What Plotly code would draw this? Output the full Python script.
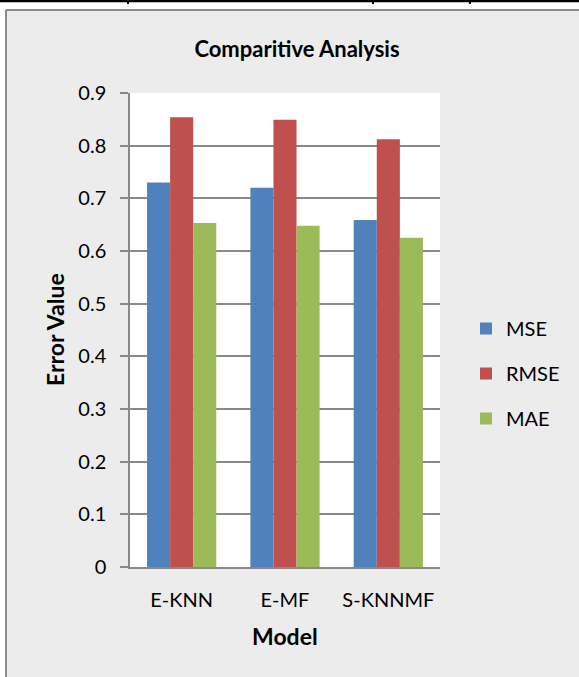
import plotly.graph_objects as go

# Error metrics per recommender model
models = ["E-KNN", "E-MF", "S-KNNMF"]
mse = [0.730, 0.720, 0.659]
rmse = [0.854, 0.849, 0.812]
mae = [0.653, 0.648, 0.625]

series_names = ["MSE", "RMSE", "MAE"]
series_colors = ["#4F81BD", "#C0504D", "#9BBB59"]
y_ticks = [0, 0.1, 0.2, 0.3, 0.4, 0.5, 0.6, 0.7, 0.8, 0.9]

W, H = 579, 677
L, R, T, B = 130, 139, 93, 110
PW, PH = W - L - R, H - T - B

def fx(px):
    return (px - L) / PW

def fy(py):
    return (H - B - py) / PH

FONT = "Lato, 'Open Sans', sans-serif"
GRID = "#898989"

fig = go.Figure()
for name, vals, col in zip(series_names, [mse, rmse, mae], series_colors):
    fig.add_trace(go.Bar(
        name=name, x=models, y=vals,
        marker=dict(color=col, line=dict(width=0)),
        legendgroup=name,
    ))

shapes = [
    # page margin around the chart frame
    dict(type="rect", xref="paper", yref="paper", x0=fx(-5), x1=fx(W + 10),
         y0=fy(9), y1=fy(-5), fillcolor="white", line=dict(width=0)),
    dict(type="rect", xref="paper", yref="paper", x0=fx(-5), x1=fx(5),
         y0=fy(H + 10), y1=fy(-5), fillcolor="white", line=dict(width=0)),
    # chart frame border
    dict(type="line", xref="paper", yref="paper", x0=fx(6), x1=fx(6),
         y0=fy(10), y1=fy(H + 10), line=dict(color="#8a8a8a", width=2)),
    dict(type="line", xref="paper", yref="paper", x0=fx(6), x1=fx(W + 10),
         y0=fy(10), y1=fy(10), line=dict(color="#8a8a8a", width=2)),
    # table rule above
    dict(type="line", xref="paper", yref="paper", x0=fx(-5), x1=fx(W + 10),
         y0=fy(1), y1=fy(1), line=dict(color="black", width=2.5)),
]
for vx in [128, 373, 470]:
    shapes.append(dict(type="line", xref="paper", yref="paper", x0=fx(vx), x1=fx(vx),
                       y0=fy(-2), y1=fy(4), line=dict(color="black", width=2)))

annotations = [
    dict(text="<b>Error Value</b>", xref="paper", yref="paper", x=fx(55), y=fy(330),
         showarrow=False, textangle=-90, font=dict(family=FONT, size=23, color="black"),
         xanchor="center", yanchor="middle"),
    dict(text="<b>Model</b>", xref="paper", yref="paper", x=fx(285), y=fy(636),
         showarrow=False, font=dict(family=FONT, size=23, color="black"),
         xanchor="center", yanchor="middle"),
]

fig.update_layout(
    width=W, height=H,
    margin=dict(l=L, r=R, t=T, b=B, pad=0),
    paper_bgcolor="#ececec",
    plot_bgcolor="white",
    barmode="group",
    bargap=0.33,
    bargroupgap=0,
    font=dict(family=FONT, size=20, color="black"),
    title=dict(text="<b>Comparitive Analysis</b>", x=fx(297), xref="paper",
               y=1 - 49 / H, yref="container", xanchor="center", yanchor="middle",
               font=dict(family=FONT, size=22, color="black")),
    legend=dict(x=fx(466), y=fy(309), xanchor="left", yanchor="top",
                bgcolor="rgba(0,0,0,0)", traceorder="grouped", tracegroupgap=16,
                font=dict(family=FONT, size=20, color="black")),
    shapes=shapes,
    annotations=annotations,
    xaxis=dict(showline=True, linecolor=GRID, linewidth=1.5, showgrid=False,
               ticks="", ticklabelstandoff=14, tickfont=dict(family=FONT, size=20),
               fixedrange=True),
    yaxis=dict(range=[0, 0.9], tickvals=y_ticks, showgrid=True, gridcolor=GRID,
               gridwidth=1.5, zeroline=False, showline=True, linecolor=GRID,
               linewidth=1.5, ticks="outside", ticklen=8, tickcolor=GRID, tickwidth=1.5,
               ticklabelstandoff=10, tickfont=dict(family=FONT, size=20)),
)

fig.write_html("out.html")
